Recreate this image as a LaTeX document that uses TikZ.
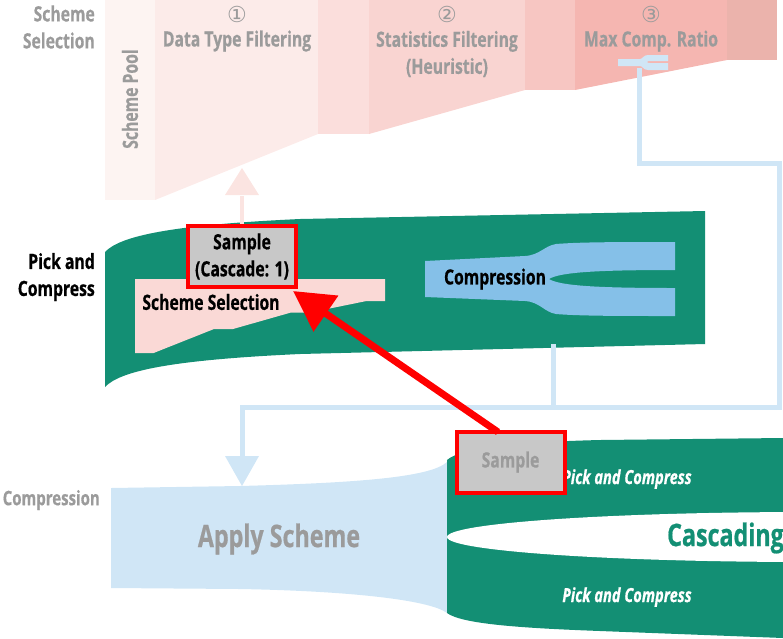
\documentclass[tikz,border=0pt]{standalone}
\usepackage{fontspec}
\usetikzlibrary{arrows.meta}
\newfontfamily\cf{Open Sans}[FakeStretch=0.75, BoldFeatures={FakeBold=0.6}, BoldItalicFeatures={FakeBold=0.6}]
\newfontfamily\dv{DejaVu Sans}
\definecolor{myteal}{HTML}{138F74}
\definecolor{lblue}{HTML}{D0E6F6}
\definecolor{mblue}{HTML}{85C0E8}
\definecolor{spink}{HTML}{FAD9D6}
\definecolor{gtext}{HTML}{9B9B9B}
\definecolor{sgray}{HTML}{C8C8C8}
\definecolor{fA}{HTML}{FDF4F2}
\definecolor{fB}{HTML}{FCEBE9}
\definecolor{fC}{HTML}{FBDEDC}
\definecolor{fD}{HTML}{F9D4D1}
\definecolor{fE}{HTML}{F7C6C2}
\definecolor{fF}{HTML}{F5B6B1}
\definecolor{fG}{HTML}{EBB3AC}
\definecolor{parrow}{HTML}{FBE4E1}
\begin{document}
\begin{tikzpicture}[x=1pt,y=-1pt,
  lbl/.style={font=\cf\bfseries\fontsize{21}{27}\selectfont, inner sep=0pt, align=center},
  glbl/.style={lbl, text=gtext},
  big/.style={font=\cf\bfseries\fontsize{31}{34}\selectfont, inner sep=0pt},
  ital/.style={font=\cf\bfseries\itshape\fontsize{19.5}{27}\selectfont, inner sep=0pt, text=white},
  circ/.style={font=\dv\fontsize{22}{24}\selectfont, inner sep=0pt, text=gtext},
  samplebox/.style={draw=red, line width=4pt, fill=sgray, minimum width=108pt, minimum height=61pt, inner sep=0pt, align=center, font=\cf\bfseries\fontsize{21}{27}\selectfont},
  bline/.style={draw=lblue, line width=5pt},
]
\useasboundingbox (0,0) rectangle (783,638);

% ---------- top funnel ----------
\fill[fA] (105,0) rectangle (155,200);
\fill[fB] (155,0) -- (318,0) -- (318,134) -- (155,200) -- cycle;
\fill[fC] (318,0) rectangle (369,134);
\fill[fD] (369,0) -- (525,0) -- (525,90) -- (369,134) -- cycle;
\fill[fE] (525,0) rectangle (575,90);
\fill[fF] (575,0) -- (727,0) -- (727,60) -- (575,90) -- cycle;
\fill[fG] (727,0) rectangle (777,60);

\node[glbl, rotate=90] (pool) at (130,99) {Scheme Pool};
\node[circ] (c1) at (237,14) {①};
\node[glbl] (dtf) at (237,41) {Data Type Filtering};
\node[circ] (c2) at (447,14) {②};
\node[glbl] (stf) at (447,54) {Statistics Filtering\\(Heuristic)};
\node[circ] (c3) at (651,14) {③};
\node[glbl] (mcr) at (651,41) {Max Comp. Ratio};

% small fork icon
\fill[lblue] (618,59) -- (640,59) .. controls (643,59) and (643,55) .. (648,55) -- (668,55) -- (668,61) -- (650,61) .. controls (646,61) and (646,63) .. (650,63) -- (668,63) -- (668,70) -- (648,70) .. controls (643,70) and (643,66) .. (640,66) -- (618,66) -- cycle;
\coordinate (icon) at (639,68);

% side labels
\node[glbl, align=right, anchor=east] (lss) at (95,27) {Scheme\\Selection};
\node[lbl, align=right, anchor=east] (lpc) at (95,277) {Pick and\\Compress};
\node[glbl, anchor=east, font=\cf\bfseries\fontsize{20}{27}\selectfont] (lcp) at (100,500) {Compression};

% ---------- middle band ----------
\fill[myteal] (105,252) .. controls (120,236) and (170,225) .. (300,219) -- (705,211) -- (705,344) -- (300,354) .. controls (170,360) and (120,371) .. (105,387) -- cycle;

% scheme selection mini funnel
\fill[spink] (135,279) -- (385,279) -- (385,301) -- (366.5,301) -- (310,312.5) -- (291,312.5) -- (233,329) -- (214,329) -- (153.6,353) -- (135,353) -- cycle;
\node[lbl] (ssel) at (211,302) {Scheme Selection};

% compression fork
\fill[mblue] (425,261) -- (525,256) .. controls (540,255) and (544,246) .. (556,244) .. controls (580,242) and (620,242) .. (675,242) -- (675,270) .. controls (600,270) and (560,272) .. (549,279) .. controls (560,286) and (600,288) .. (675,288) -- (675,316) .. controls (620,316) and (580,316) .. (556,314) .. controls (544,312) and (540,302) .. (525,301) -- (425,297) -- cycle;
\node[lbl] (comp) at (495,279) {Compression};

% ---------- bottom ----------
\fill[lblue] (111,488) -- (240,486) .. controls (350,483) and (430,478) .. (447,462) -- (447,613) .. controls (430,600) and (350,591) .. (240,589) -- (111,588) -- cycle;
\node[big, text=gtext] (apply) at (279,539) {Apply Scheme};
\coordinate (applytop) at (242,486);

\fill[myteal] (447,460) .. controls (462,447) and (520,442) .. (600,440) -- (783,438) -- (783,638) -- (600,631) .. controls (520,628) and (462,624) .. (447,613) -- cycle;
\fill[white] (810,537) ellipse [x radius=363, y radius=25];
\node[ital] (pc1) at (627,479) {Pick and Compress};
\node[ital] (pc2) at (627,597) {Pick and Compress};
\node[big, text=myteal, anchor=east] (casc) at (784,538) {Cascading};

% ---------- connectors ----------
\coordinate (j1) at (639,163);
\coordinate (j2) at (779,163);
\coordinate (j3) at (779,407.5);
\coordinate (j4) at (242,407.5);
\coordinate (cbot) at (553,344);
\coordinate (cjoin) at (553,407.5);
\draw[bline] (icon) -- (j1) -- (j2) -- (j3) -- (j4) -- (242,458);
\draw[bline] (cbot) -- (cjoin);
\fill[lblue] (225,456) -- (259,456) -- (applytop) -- cycle;

% sample boxes
\node[samplebox] (samp1) at (242,256.5) {Sample\\(Cascade: 1)};
\node[samplebox, text=gtext] (samp2) at (510.5,462) {Sample};

% pink up arrow
\coordinate (dtfbot) at (242,168);
\fill[parrow] (240,196) rectangle (244,224);
\fill[parrow] (225,195) -- (259,195) -- (dtfbot) -- cycle;

% red arrow
\coordinate (rstart) at (498,432);
\coordinate (rtip) at (293,291);
\draw[red, line width=7pt, -{Triangle[length=40pt,width=42pt]}] (rstart) -- (rtip);
\end{tikzpicture}
\end{document}
